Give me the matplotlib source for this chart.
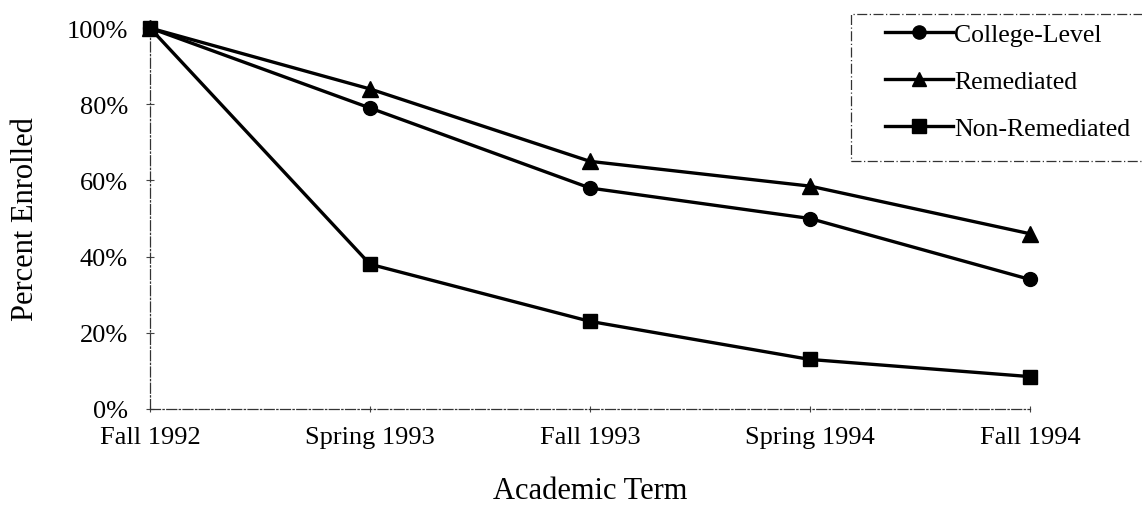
import matplotlib
matplotlib.use("Agg")
import matplotlib.pyplot as plt
from matplotlib.patches import Rectangle
from matplotlib.ticker import FuncFormatter

terms = ["Fall 1992", "Spring 1993", "Fall 1993", "Spring 1994", "Fall 1994"]
college_level = [100, 79, 58, 50, 34]
remediated = [100, 84, 65, 58.5, 46]
non_remediated = [100, 38, 23, 13, 8.5]
yticks = [0, 20, 40, 60, 80, 100]

plt.rcParams['font.family'] = ['Liberation Serif', 'DejaVu Serif']

W, H = 1142, 510
fig = plt.figure(figsize=(W / 100, H / 100), dpi=100)
ax = fig.add_axes([150/W, 100/H, 880/W, 381/H])

x = list(range(len(terms)))
lw = 2.4
ax.plot(x, college_level, color='black', lw=lw, marker='o', ms=10, label='College-Level', clip_on=False, zorder=3)
ax.plot(x, remediated, color='black', lw=lw, marker='^', ms=11, label='Remediated', clip_on=False, zorder=3)
ax.plot(x, non_remediated, color='black', lw=lw, marker='s', ms=10, label='Non-Remediated', clip_on=False, zorder=3)

ax.set_xlim(0, len(terms) - 1)
ax.set_ylim(0, 100)
ax.set_xticks(x)
ax.set_xticklabels(terms)
ax.set_yticks(yticks)
ax.yaxis.set_major_formatter(FuncFormatter(lambda v, p: f"{int(v)}%"))
ax.tick_params(axis='y', labelsize=19, direction='inout', length=6, width=0.8, pad=13, color='#444444')
ax.tick_params(axis='x', labelsize=19, direction='inout', length=5, width=0.8, pad=10, color='#444444')

for s in ['top', 'right']:
    ax.spines[s].set_visible(False)
for s in ['left', 'bottom']:
    ax.spines[s].set_linestyle((0, (8, 2, 1, 2)))
    ax.spines[s].set_linewidth(0.9)
    ax.spines[s].set_color('#333333')

ax.set_xlabel("Academic Term", fontsize=22, labelpad=20)
ax.set_ylabel("Percent Enrolled", fontsize=22, labelpad=19)

leg = fig.legend(loc='upper left', bbox_to_anchor=(885/W, 1 - 24/H),
                 fontsize=18.5, handlelength=2.65, handletextpad=0.05,
                 frameon=False, borderaxespad=0, borderpad=0,
                 labelspacing=0.93, markerscale=0.95)

frame = Rectangle((851/W, 1 - 162/H), 0.4, 147/H, transform=fig.transFigure,
                  fill=False, edgecolor='#333333', linewidth=0.9,
                  linestyle=(0, (8, 2, 1, 2)), clip_on=False)
fig.patches.append(frame)

fig.savefig("out.png", dpi=100, facecolor='white')
